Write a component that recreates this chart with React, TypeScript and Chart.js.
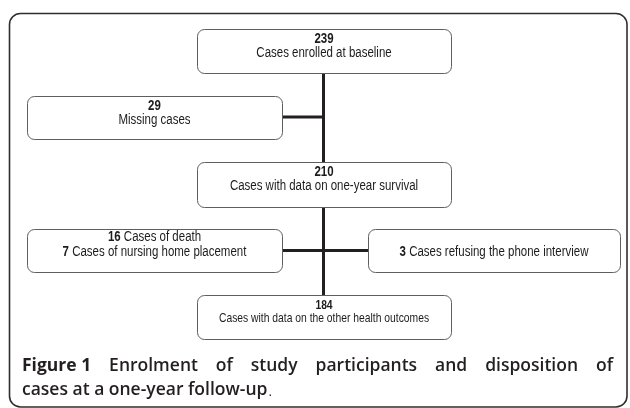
import React, { useEffect, useRef } from "react";
import { Chart, registerables } from "chart.js";

Chart.register(...registerables);

// ---- data ----
const stageCounts = [239, 210, 184];
const stageLabels = [
  "Cases enrolled at baseline",
  "Cases with data on one-year survival",
  "Cases with data on the other health outcomes",
];
const missingCount = [29];
const missingLabel = ["Missing cases"];
const exclusionCounts = [16, 7, 3];
const exclusionLabels = [
  "Cases of death",
  "Cases of nursing home placement",
  "Cases refusing the phone interview",
];
const captionBold = "Figure 1";
const captionLine1 = "Enrolment of study participants and disposition of";
const captionLine2 = "cases at a one-year follow-up";

// ---- layout (axis units: x 0..630, y 0..408 top-down) ----
const W = 630;
const H = 408;
const spineX = 323.5;
const frame = { x0: 9.5, y0: 13.5, x1: 627, y1: 407 };
const boxStage = [
  { x0: 197, x1: 451, y0: 29, y1: 73 },
  { x0: 197, x1: 451, y0: 162, y1: 207 },
  { x0: 197, x1: 451, y0: 295, y1: 339 },
];
const boxMissing = { x0: 27, x1: 282, y0: 96, y1: 139 };
const boxLeft = { x0: 27, x1: 282, y0: 229, y1: 272 };
const boxRight = { x0: 368, x1: 620, y0: 229, y1: 272 };

const INK = "#231f20";
const BOX_STROKE = "#5e5e5e";
const BOX_FONT = '"Liberation Sans", Arial, Helvetica, sans-serif';
const NARROW = 0.82;
const CAP_FONT = '"Open Sans", "Noto Sans", sans-serif';

function roundRect(ctx: CanvasRenderingContext2D, x0: number, y0: number, x1: number, y1: number, r: number) {
  ctx.beginPath();
  ctx.moveTo(x0 + r, y0);
  ctx.lineTo(x1 - r, y0);
  ctx.arcTo(x1, y0, x1, y0 + r, r);
  ctx.lineTo(x1, y1 - r);
  ctx.arcTo(x1, y1, x1 - r, y1, r);
  ctx.lineTo(x0 + r, y1);
  ctx.arcTo(x0, y1, x0, y1 - r, r);
  ctx.lineTo(x0, y0 + r);
  ctx.arcTo(x0, y0, x0 + r, y0, r);
  ctx.closePath();
}

const flowPlugin = {
  id: "flow",
  afterDatasetsDraw(chart: any) {
    const ctx: CanvasRenderingContext2D = chart.ctx;
    const xs = chart.scales.x;
    const ys = chart.scales.y;
    const px = (v: number) => xs.getPixelForValue(v);
    const py = (v: number) => ys.getPixelForValue(v);

    ctx.save();
    // outer frame
    ctx.strokeStyle = "#2e2e2e";
    ctx.lineWidth = 1.6;
    roundRect(ctx, px(frame.x0), py(frame.y0), px(frame.x1), py(frame.y1), 11);
    ctx.stroke();

    const drawBox = (b: any) => {
      ctx.fillStyle = "#ffffff";
      roundRect(ctx, Math.round(px(b.x0)) + 0.5, Math.round(py(b.y0)) + 0.5, Math.round(px(b.x1)) + 0.5, Math.round(py(b.y1)) + 0.5, 7);
      ctx.fill();
      ctx.strokeStyle = BOX_STROKE;
      ctx.lineWidth = 1;
      ctx.stroke();
    };

    // narrow sans text (Arial-Narrow look) centred on cx
    const mixed = (parts: { t: string; bold: boolean }[], cx: number, cy: number, size: number) => {
      ctx.textBaseline = "middle";
      ctx.textAlign = "left";
      let total = 0;
      const ws = parts.map((p) => {
        ctx.font = `${p.bold ? "bold " : ""}${size}px ${BOX_FONT}`;
        const w = ctx.measureText(p.t).width * NARROW;
        total += w;
        return w;
      });
      let x = cx - total / 2;
      parts.forEach((p, i) => {
        ctx.font = `${p.bold ? "bold " : ""}${size}px ${BOX_FONT}`;
        ctx.fillStyle = "#1c1c1c";
        ctx.save();
        ctx.translate(x, cy);
        ctx.scale(NARROW, 1);
        ctx.fillText(p.t, 0, 0);
        ctx.restore();
        x += ws[i];
      });
    };

    const FS = 14;
    // stage boxes
    boxStage.forEach((b, i) => {
      drawBox(b);
      const cx = px((b.x0 + b.x1) / 2);
      const size = i === 2 ? 12.6 : FS;
      mixed([{ t: String(stageCounts[i]), bold: true }], cx, py(b.y0 + 10.5), size);
      mixed([{ t: stageLabels[i], bold: false }], cx, py(b.y0 + 24), size);
    });

    // missing box
    drawBox(boxMissing);
    {
      const cx = px((boxMissing.x0 + boxMissing.x1) / 2);
      mixed([{ t: String(missingCount[0]), bold: true }], cx, py(boxMissing.y0 + 10.5), FS);
      mixed([{ t: missingLabel[0], bold: false }], cx, py(boxMissing.y0 + 24), FS);
    }

    // left exclusion box
    drawBox(boxLeft);
    {
      const cx = px((boxLeft.x0 + boxLeft.x1) / 2);
      mixed([{ t: String(exclusionCounts[0]), bold: true }, { t: " " + exclusionLabels[0], bold: false }], cx, py(boxLeft.y0 + 8.5), FS);
      mixed([{ t: String(exclusionCounts[1]), bold: true }, { t: " " + exclusionLabels[1], bold: false }], cx, py(boxLeft.y0 + 23), FS);
    }

    // right exclusion box
    drawBox(boxRight);
    {
      const cx = px((boxRight.x0 + boxRight.x1) / 2);
      mixed([{ t: String(exclusionCounts[2]), bold: true }, { t: " " + exclusionLabels[2], bold: false }], cx, py(boxRight.y0 + 23), FS);
    }

    // caption
    const capSize = 17.5;
    const left = px(22);
    const right = px(613);
    const y1 = py(366);
    const y2 = py(390);
    ctx.fillStyle = "#231f20";
    ctx.textBaseline = "middle";
    ctx.textAlign = "left";
    const words1 = [{ t: captionBold, w: 700 }, ...captionLine1.split(" ").map((t) => ({ t, w: 600 }))];
    let total = 0;
    const widths = words1.map((wd) => {
      ctx.font = `${wd.w} ${capSize}px ${CAP_FONT}`;
      const m = ctx.measureText(wd.t).width;
      total += m;
      return m;
    });
    const gap = (right - left - total) / (words1.length - 1);
    let x = left;
    words1.forEach((wd, i) => {
      ctx.font = `${wd.w} ${capSize}px ${CAP_FONT}`;
      ctx.fillText(wd.t, x, y1);
      x += widths[i] + gap;
    });
    ctx.font = `600 ${capSize}px ${CAP_FONT}`;
    ctx.fillText(captionLine2, left, y2);
    const w2 = ctx.measureText(captionLine2).width;
    ctx.font = `400 ${capSize - 4}px ${CAP_FONT}`;
    ctx.fillText(".", left + w2 + 1, y2 + 2);
    ctx.restore();
  },
};

export default function App() {
  const ref = useRef<HTMLCanvasElement>(null);
  useEffect(() => {
    if (!ref.current) return;
    const seg = (pts: number[][]) => pts.map(([x, y]) => ({ x, y }));
    const lineStyle = {
      showLine: true,
      pointRadius: 0,
      borderWidth: 3,
      borderColor: INK,
      borderCapStyle: "butt",
      fill: false,
    };
    const chart = new Chart(ref.current, {
      type: "scatter",
      data: {
        datasets: [
          { ...lineStyle, data: seg([[spineX, boxStage[0].y1], [spineX, boxStage[2].y0]]) },
          { ...lineStyle, data: seg([[boxMissing.x1, (boxMissing.y0 + boxMissing.y1) / 2 - 0.5], [spineX, (boxMissing.y0 + boxMissing.y1) / 2 - 0.5]]) },
          { ...lineStyle, data: seg([[boxLeft.x1, boxLeft.y0 + 21.5], [boxRight.x0, boxLeft.y0 + 21.5]]) },
        ] as any,
      },
      options: {
        animation: false,
        responsive: false,
        maintainAspectRatio: false,
        layout: { padding: 0 },
        plugins: { legend: { display: false }, tooltip: { enabled: false }, title: { display: false } },
        scales: {
          x: { type: "linear", min: 0, max: W, display: false },
          y: { type: "linear", min: 0, max: H, reverse: true, display: false },
        },
      },
      plugins: [flowPlugin],
    });
    return () => chart.destroy();
  }, []);
  return (
    <div style={{ position: "absolute", left: 0, top: 0, width: W, height: H, background: "#fff" }}>
      <canvas ref={ref} width={W} height={H} style={{ width: W, height: H, display: "block" }} />
    </div>
  );
}
